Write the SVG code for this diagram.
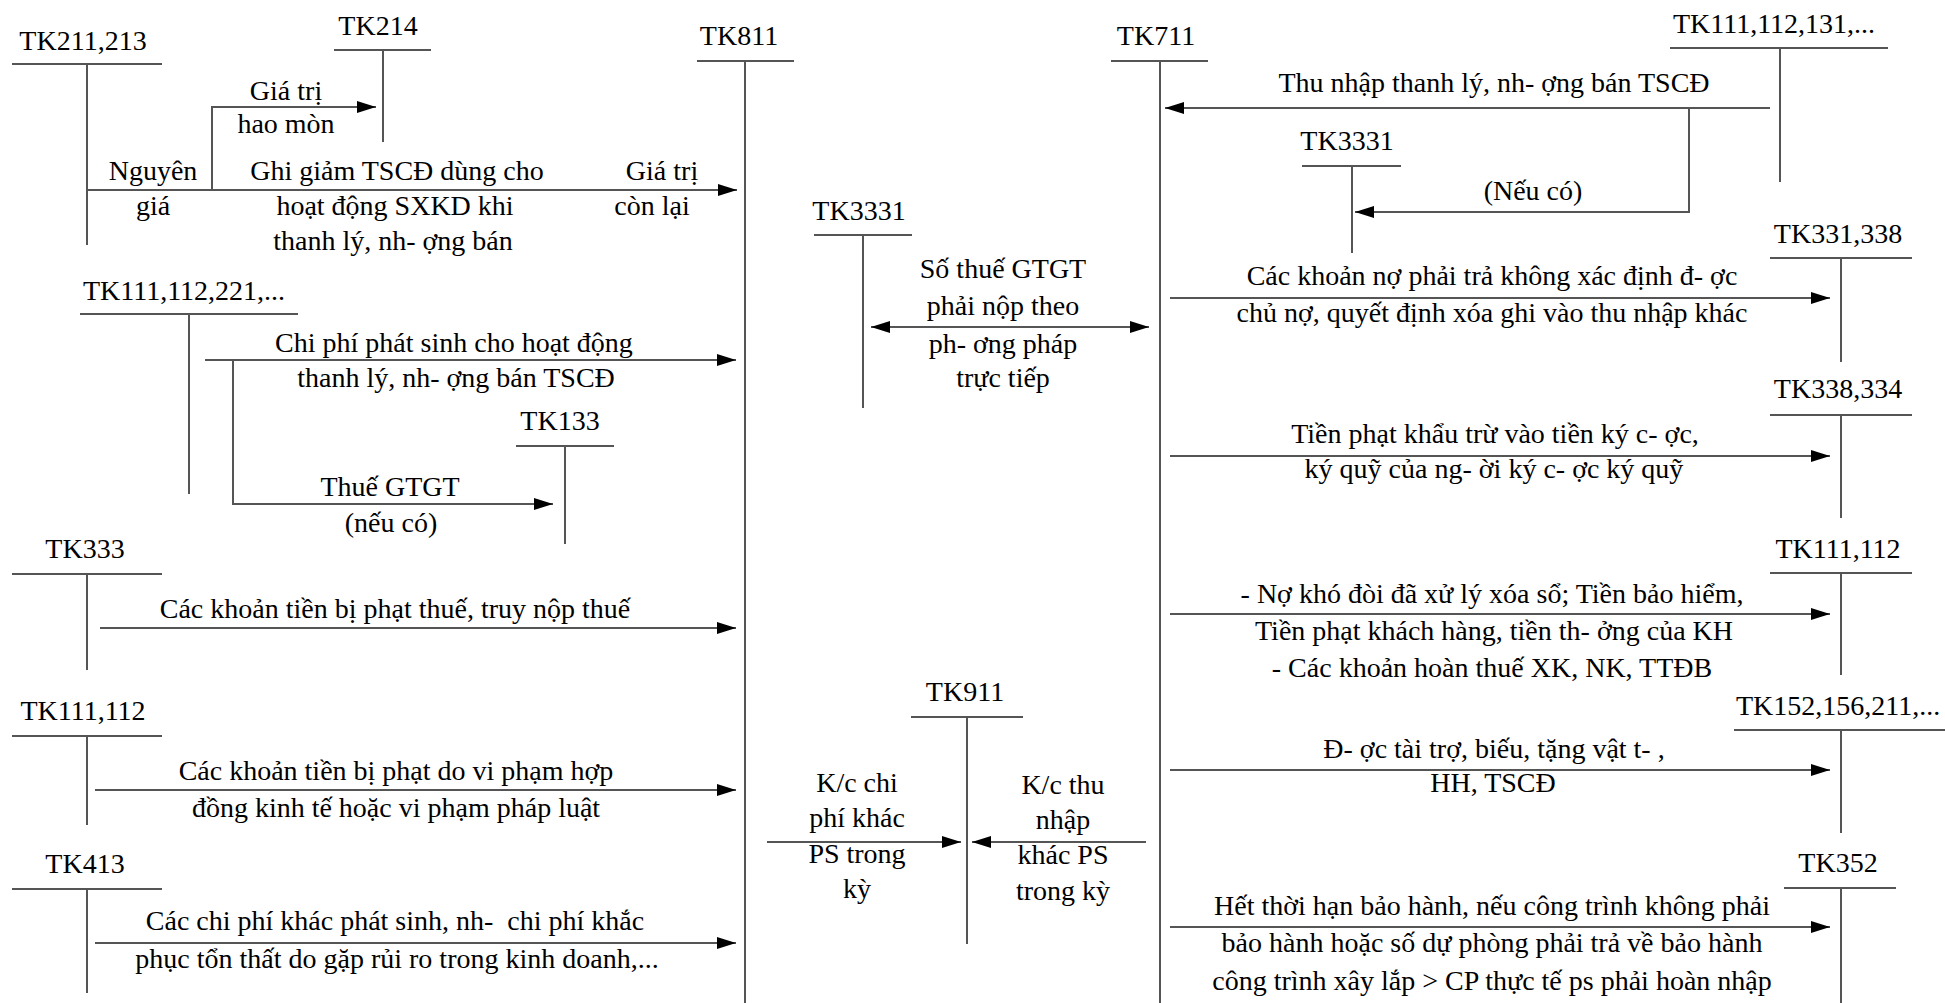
<svg xmlns="http://www.w3.org/2000/svg" width="1945" height="1003" viewBox="0 0 1945 1003">
<style>
text{font-family:"Liberation Serif","Times New Roman",serif;font-size:28px;fill:#000;text-anchor:middle}
.acc line{stroke:#555;stroke-width:2}
.cn path{fill:none;stroke:#555;stroke-width:2}
.st{text-anchor:start}
</style>
<defs>
<marker id="ah" markerUnits="userSpaceOnUse" markerWidth="20" markerHeight="14" refX="19" refY="7" orient="auto-start-reverse"><path d="M0,1 L19,7 L0,13 Z" fill="#000"/></marker>
</defs>
<rect width="1945" height="1003" fill="#fff"/>

<g class="acc">
<g id="tk211213"><text x="83" y="50">TK211,213</text><line x1="12" y1="64" x2="162" y2="64"/><line x1="87" y1="64" x2="87" y2="245"/></g>
<g id="tk214"><text x="378" y="35">TK214</text><line x1="334" y1="50" x2="431" y2="50"/><line x1="383" y1="50" x2="383" y2="142"/></g>
<g id="tk811"><text x="739" y="45">TK811</text><line x1="697" y1="61" x2="794" y2="61"/><line x1="745" y1="61" x2="745" y2="1003"/></g>
<g id="tk111112221"><text x="184" y="300">TK111,112,221,...</text><line x1="80" y1="314" x2="298" y2="314"/><line x1="189" y1="314" x2="189" y2="494"/></g>
<g id="tk133"><text x="560" y="430">TK133</text><line x1="516" y1="446" x2="614" y2="446"/><line x1="565" y1="446" x2="565" y2="544"/></g>
<g id="tk333"><text x="85" y="558">TK333</text><line x1="12" y1="574" x2="162" y2="574"/><line x1="87" y1="574" x2="87" y2="670"/></g>
<g id="tk111112L"><text x="83" y="720">TK111,112</text><line x1="12" y1="736" x2="162" y2="736"/><line x1="87" y1="736" x2="87" y2="825"/></g>
<g id="tk413"><text x="85" y="873">TK413</text><line x1="12" y1="889" x2="162" y2="889"/><line x1="87" y1="889" x2="87" y2="993"/></g>

<g id="tk711"><text x="1156" y="45">TK711</text><line x1="1111" y1="61" x2="1208" y2="61"/><line x1="1160" y1="61" x2="1160" y2="1003"/></g>
<g id="tk3331m"><text x="859" y="220">TK3331</text><line x1="814" y1="235" x2="912" y2="235"/><line x1="863" y1="235" x2="863" y2="408"/></g>
<g id="tk911"><text x="965" y="701">TK911</text><line x1="911" y1="717" x2="1023" y2="717"/><line x1="967" y1="717" x2="967" y2="944"/></g>

<g id="tk111112131"><text x="1774" y="33">TK111,112,131,...</text><line x1="1670" y1="48" x2="1888" y2="48"/><line x1="1780" y1="48" x2="1780" y2="182"/></g>
<g id="tk3331r"><text x="1347" y="150">TK3331</text><line x1="1302" y1="166" x2="1401" y2="166"/><line x1="1352" y1="166" x2="1352" y2="253"/></g>
<g id="tk331338"><text x="1838" y="243">TK331,338</text><line x1="1770" y1="258" x2="1912" y2="258"/><line x1="1841" y1="258" x2="1841" y2="362"/></g>
<g id="tk338334"><text x="1838" y="398">TK338,334</text><line x1="1770" y1="415" x2="1912" y2="415"/><line x1="1841" y1="415" x2="1841" y2="518"/></g>
<g id="tk111112R"><text x="1838" y="558">TK111,112</text><line x1="1770" y1="573" x2="1912" y2="573"/><line x1="1841" y1="573" x2="1841" y2="675"/></g>
<g id="tk152"><text class="st" x="1736" y="715">TK152,156,211,...</text><line x1="1734" y1="730" x2="1945" y2="730"/><line x1="1841" y1="730" x2="1841" y2="833"/></g>
<g id="tk352"><text x="1838" y="872">TK352</text><line x1="1784" y1="888" x2="1896" y2="888"/><line x1="1841" y1="888" x2="1841" y2="1003"/></g>
</g>

<g class="cn" id="connectors">
<path d="M87,190 H737" marker-end="url(#ah)"/>
<path d="M212,190 V107 H376" marker-end="url(#ah)"/>
<path d="M205,360 H736" marker-end="url(#ah)"/>
<path d="M233,360 V504 H553" marker-end="url(#ah)"/>
<path d="M100,628 H736" marker-end="url(#ah)"/>
<path d="M95,790 H736" marker-end="url(#ah)"/>
<path d="M95,943 H736" marker-end="url(#ah)"/>
<path d="M871,327 H1149" marker-start="url(#ah)" marker-end="url(#ah)"/>
<path d="M767,842 H961" marker-end="url(#ah)"/>
<path d="M1146,842 H972" marker-end="url(#ah)"/>
<path d="M1770,108 H1165" marker-end="url(#ah)"/>
<path d="M1689,108 V212 H1355" marker-end="url(#ah)"/>
<path d="M1170,298 H1830" marker-end="url(#ah)"/>
<path d="M1170,456 H1830" marker-end="url(#ah)"/>
<path d="M1170,614 H1830" marker-end="url(#ah)"/>
<path d="M1170,770 H1830" marker-end="url(#ah)"/>
<path d="M1170,927 H1830" marker-end="url(#ah)"/>
</g>

<g id="labels">
<text x="153" y="180">Nguyên</text>
<text x="153" y="215">giá</text>
<text x="397" y="180">Ghi giảm TSCĐ dùng cho</text>
<text x="395" y="215">hoạt động SXKD khi</text>
<text x="393" y="250">thanh lý, nh- ợng bán</text>
<text x="662" y="180">Giá trị</text>
<text x="652" y="215">còn lại</text>
<text x="286" y="100">Giá trị</text>
<text x="286" y="133">hao mòn</text>
<text x="454" y="352">Chi phí phát sinh cho hoạt động</text>
<text x="456" y="387">thanh lý, nh- ợng bán TSCĐ</text>
<text x="390" y="496">Thuế GTGT</text>
<text x="391" y="532">(nếu có)</text>
<text x="395" y="618">Các khoản tiền bị phạt thuế, truy nộp thuế</text>
<text x="396" y="780">Các khoản tiền bị phạt do vi phạm hợp</text>
<text x="396" y="817">đồng kinh tế hoặc vi phạm pháp luật</text>
<text x="395" y="930" style="white-space:pre">Các chi phí khác phát sinh, nh-  chi phí khắc</text>
<text x="397" y="968">phục tổn thất do gặp rủi ro trong kinh doanh,...</text>

<text x="1003" y="278">Số thuế GTGT</text>
<text x="1003" y="315">phải nộp theo</text>
<text x="1003" y="353">ph- ơng pháp</text>
<text x="1003" y="387">trực tiếp</text>
<text x="857" y="792">K/c chi</text>
<text x="857" y="827">phí khác</text>
<text x="857" y="863">PS trong</text>
<text x="857" y="898">kỳ</text>
<text x="1063" y="794">K/c thu</text>
<text x="1063" y="829">nhập</text>
<text x="1063" y="864">khác PS</text>
<text x="1063" y="900">trong kỳ</text>

<text x="1494" y="92">Thu nhập thanh lý, nh- ợng bán TSCĐ</text>
<text x="1533" y="200">(Nếu có)</text>
<text x="1492" y="285">Các khoản nợ phải trả không xác định đ- ợc</text>
<text x="1492" y="322">chủ nợ, quyết định xóa ghi vào thu nhập khác</text>
<text x="1495" y="443">Tiền phạt khẩu trừ vào tiền ký c- ợc,</text>
<text x="1494" y="478">ký quỹ của ng- ời ký c- ợc ký quỹ</text>
<text x="1492" y="603">- Nợ khó đòi đã xử lý xóa sổ; Tiền bảo hiểm,</text>
<text x="1494" y="640">Tiền phạt khách hàng, tiền th- ởng của KH</text>
<text x="1492" y="677">- Các khoản hoàn thuế XK, NK, TTĐB</text>
<text x="1494" y="758">Đ- ợc tài trợ, biếu, tặng vật t- ,</text>
<text x="1493" y="792">HH, TSCĐ</text>
<text x="1492" y="915">Hết thời hạn bảo hành, nếu công trình không phải</text>
<text x="1492" y="952">bảo hành hoặc số dự phòng phải trả về bảo hành</text>
<text x="1492" y="990">công trình xây lắp &gt; CP thực tế ps phải hoàn nhập</text>
</g>
</svg>
